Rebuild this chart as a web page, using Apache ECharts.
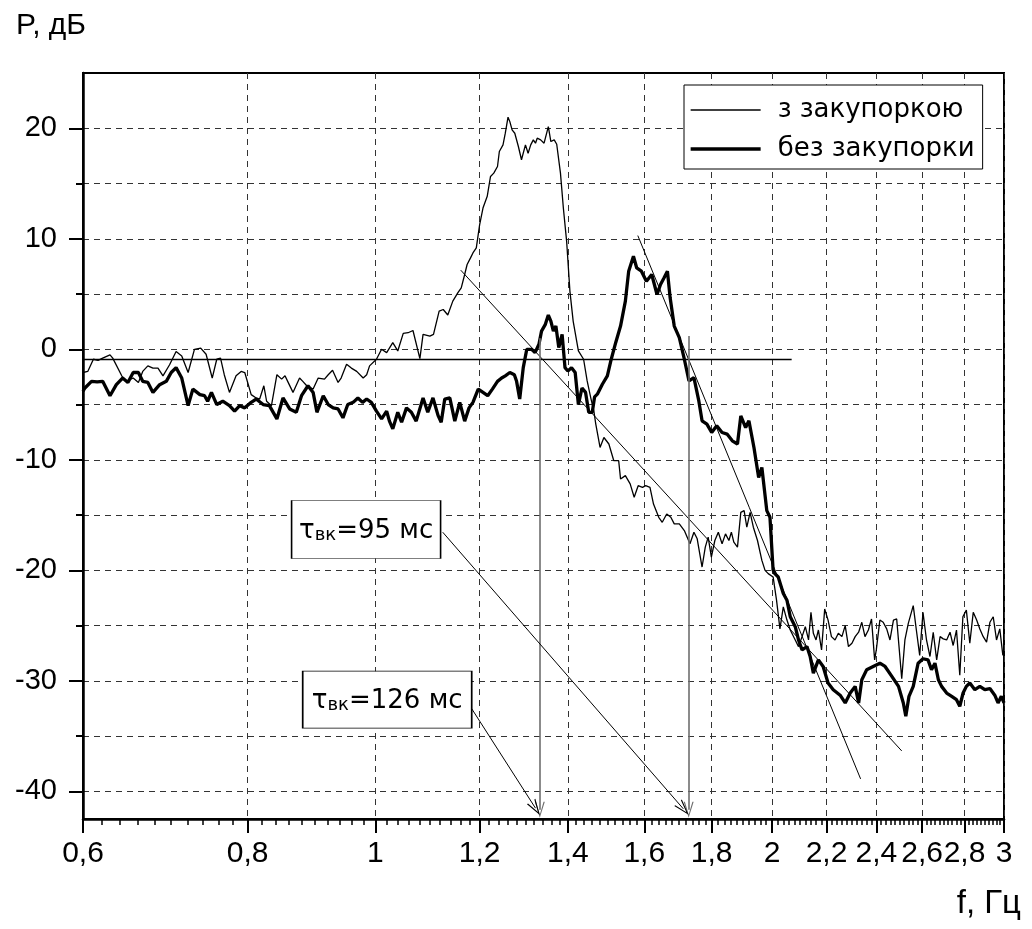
<!DOCTYPE html>
<html>
<head>
<meta charset="utf-8">
<script src="https://cdn.jsdelivr.net/npm/echarts@6/dist/echarts.min.js"></script>
<style>
  html, body { margin: 0; padding: 0; background: #fff; }
  #chart { width: 1032px; height: 929px; }
</style>
</head>
<body>
<div id="chart"></div>
<script>
// Spectrum with occlusion (thin line): frequency, Hz and level, dB
const fThin = [0.600,0.602,0.605,0.611,0.616,0.621,0.629,0.632,0.642,0.647,0.655,0.661,0.666,0.672,0.678,0.684,0.690,0.698,0.706,0.713,
  0.721,0.729,0.737,0.744,0.752,0.758,0.763,0.768,0.775,0.784,0.791,0.796,0.805,0.812,0.817,0.823,0.827,0.834,0.842,0.849,
  0.854,0.858,0.866,0.876,0.881,0.887,0.897,0.905,0.915,0.921,0.928,0.937,0.942,0.951,0.959,0.968,0.979,0.985,0.990,1.002,
  1.011,1.020,1.031,1.040,1.050,1.059,1.068,1.081,1.087,1.100,1.107,1.118,1.126,1.135,1.145,1.155,1.162,1.169,1.174,1.181,
  1.186,1.193,1.200,1.207,1.216,1.223,1.230,1.238,1.242,1.250,1.255,1.261,1.265,1.270,1.276,1.284,1.291,1.300,1.306,1.312,
  1.318,1.323,1.327,1.335,1.343,1.353,1.359,1.367,1.373,1.382,1.389,1.397,1.405,1.413,1.426,1.439,1.448,1.457,1.465,1.470,
  1.481,1.491,1.504,1.517,1.530,1.535,1.548,1.561,1.572,1.583,1.595,1.604,1.616,1.626,1.641,1.651,1.664,1.676,1.686,1.701,
  1.716,1.733,1.745,1.755,1.770,1.780,1.789,1.799,1.810,1.821,1.833,1.844,1.855,1.863,1.871,1.883,1.894,1.905,1.914,1.925,
  1.936,1.950,1.965,1.976,1.987,2.004,2.016,2.028,2.040,2.053,2.065,2.083,2.095,2.108,2.120,2.132,2.141,2.150,2.160,2.169,
  2.181,2.193,2.206,2.219,2.233,2.246,2.260,2.273,2.286,2.300,2.313,2.327,2.340,2.353,2.367,2.380,2.393,2.400,2.415,2.429,
  2.444,2.458,2.473,2.487,2.509,2.523,2.538,2.560,2.574,2.589,2.604,2.620,2.636,2.651,2.667,2.683,2.698,2.714,2.730,2.745,
  2.761,2.777,2.792,2.809,2.826,2.843,2.860,2.876,2.893,2.910,2.927,2.944,2.961,2.978,2.994];
const pThin = [-2.1,-2.0,-2.0,-0.9,-1.0,-0.8,-0.5,-0.8,-2.4,-2.9,-2.6,-3.0,-2.0,-1.5,-1.7,-1.7,-2.4,-1.4,-0.2,-0.6,
  -2.1,0.0,0.1,-0.45,-2.6,-0.9,-0.8,-2.3,-3.9,-2.4,-2.0,-2.1,-4.1,-4.4,-4.5,-3.3,-4.7,-5.1,-2.3,-2.7,
  -2.4,-2.9,-3.9,-2.6,-2.9,-3.3,-3.6,-2.6,-2.7,-2.3,-1.9,-3.0,-2.6,-1.35,-1.7,-2.0,-2.6,-2.3,-1.5,-0.9,
  0.0,-0.3,0.6,-0.15,1.44,1.5,1.7,-0.85,1.35,1.2,1.35,3.46,3.6,3.1,4.36,5.1,5.56,6.77,7.67,8.27,
  8.72,9.17,11.28,12.78,13.84,15.64,15.94,16.54,17.9,18.5,19.55,21.0,20.6,19.86,19.55,18.35,17.15,18.5,17.74,18.5,
  18.95,18.65,19.1,18.95,18.65,20.15,18.8,18.95,18.55,15.94,12.78,9.77,5.26,2.55,-0.15,-0.9,-2.86,-4.37,-5.57,-6.77,
  -8.88,-7.98,-8.57,-10.08,-10.08,-11.73,-11.43,-12.18,-13.39,-12.34,-12.49,-12.34,-12.49,-14.0,-15.2,-15.65,-14.9,-15.2,-15.8,-15.8,
  -16.4,-17.6,-16.55,-17.15,-19.7,-17.9,-17.0,-18.8,-17.3,-16.55,-17.6,-16.7,-17.3,-16.55,-17.45,-17.9,-14.75,-14.6,-16.1,-14.75,
  -16.1,-17.3,-19.1,-20.0,-20.3,-20.6,-22.7,-25.3,-23.3,-24.5,-25.4,-26.3,-26.9,-26.0,-25.1,-26.3,-23.8,-25.7,-26.3,-25.4,
  -27.2,-23.5,-24.5,-26.0,-26.3,-25.7,-26.0,-25.0,-26.9,-26.6,-26.0,-25.6,-24.7,-26.0,-25.4,-24.4,-28.1,-27.2,-24.5,-24.7,
  -25.3,-26.3,-24.5,-24.4,-29.8,-26.3,-24.8,-23.2,-25.4,-27.7,-23.8,-26.3,-27.8,-25.6,-28.1,-26.0,-26.2,-26.3,-25.6,-26.8,
  -25.4,-29.5,-24.2,-23.6,-26.6,-23.8,-24.5,-25.3,-26.0,-26.5,-24.7,-24.2,-26.3,-25.3,-27.7];

// Spectrum without occlusion (thick line)
const fThick = [0.600,0.602,0.609,0.615,0.621,0.629,0.636,0.643,0.649,0.655,0.661,0.666,0.672,0.678,0.686,0.694,0.700,0.706,0.713,0.721,
  0.727,0.736,0.742,0.746,0.751,0.758,0.766,0.775,0.782,0.789,0.796,0.805,0.812,0.822,0.831,0.842,0.851,0.861,0.871,0.879,
  0.889,0.897,0.903,0.913,0.921,0.929,0.937,0.945,0.953,0.962,0.970,0.978,0.985,0.993,1.002,1.011,1.020,1.025,1.031,1.040,
  1.047,1.056,1.065,1.074,1.087,1.096,1.106,1.116,1.122,1.129,1.139,1.149,1.159,1.169,1.178,1.186,1.197,1.207,1.217,1.227,
  1.238,1.247,1.255,1.265,1.275,1.280,1.287,1.295,1.303,1.314,1.322,1.331,1.337,1.346,1.353,1.359,1.365,1.371,1.378,1.386,
  1.393,1.400,1.409,1.418,1.426,1.435,1.444,1.452,1.461,1.467,1.474,1.487,1.500,1.509,1.522,1.535,1.548,1.557,1.570,1.579,
  1.592,1.606,1.621,1.636,1.646,1.656,1.666,1.674,1.686,1.701,1.716,1.730,1.745,1.760,1.770,1.785,1.800,1.816,1.833,1.849,
  1.866,1.883,1.894,1.910,1.921,1.938,1.954,1.965,1.982,1.993,2.004,2.010,2.022,2.040,2.053,2.065,2.083,2.095,2.108,2.126,
  2.138,2.150,2.169,2.187,2.206,2.226,2.253,2.273,2.293,2.313,2.327,2.340,2.360,2.387,2.415,2.437,2.466,2.495,2.516,2.527,
  2.541,2.560,2.582,2.604,2.627,2.643,2.659,2.675,2.690,2.714,2.738,2.761,2.777,2.793,2.809,2.826,2.851,2.876,2.901,2.927,
  2.952,2.969,2.986,3.000];
const pThick = [-3.8,-3.5,-2.9,-2.95,-2.9,-4.2,-3.2,-2.6,-3.0,-2.1,-2.1,-2.9,-3.0,-3.9,-3.2,-2.9,-2.1,-1.66,-2.6,-5.1,
  -3.6,-4.1,-4.2,-4.7,-3.9,-5.0,-4.7,-5.1,-5.6,-5.1,-5.3,-4.8,-4.5,-5.0,-5.1,-6.3,-4.4,-5.4,-5.7,-4.2,
  -3.3,-3.9,-5.7,-4.2,-5.0,-5.3,-5.4,-6.2,-5.0,-4.8,-4.4,-4.8,-4.5,-4.8,-5.6,-6.3,-5.6,-6.5,-7.2,-5.7,
  -6.6,-5.3,-5.7,-6.5,-4.4,-5.7,-4.4,-6.0,-6.6,-4.5,-4.4,-6.5,-4.8,-6.5,-5.3,-4.8,-3.6,-3.9,-4.2,-3.6,
  -2.9,-2.6,-2.4,-2.1,-2.3,-2.9,-4.5,-1.66,0.0,0.0,-0.3,0.45,1.65,2.26,3.1,2.55,1.65,2.1,0.15,1.35,
  -1.66,-1.96,-1.66,-2.1,-5.0,-3.5,-3.9,-5.7,-5.7,-4.3,-4.06,-3.16,-2.4,-1.06,0.6,2.1,4.36,7.07,8.42,7.36,
  7.07,6.16,6.77,4.96,5.87,6.46,7.07,4.66,2.1,1.05,-0.9,-2.86,-2.56,-4.67,-6.47,-6.77,-7.53,-6.92,-7.53,-7.67,
  -8.28,-8.57,-6.02,-7.08,-6.47,-8.88,-11.59,-10.69,-14.6,-15.2,-20.0,-20.3,-20.6,-22.1,-22.7,-24.2,-25.1,-26.3,-27.2,-26.9,
  -27.8,-29.3,-28.1,-28.7,-30.2,-30.8,-31.3,-32.0,-31.1,-30.5,-32.0,-29.9,-29.0,-28.7,-28.4,-28.7,-29.6,-30.5,-32.0,-33.2,
  -31.4,-30.5,-28.4,-28.0,-28.1,-29.0,-28.4,-29.9,-30.5,-31.1,-31.4,-31.7,-32.3,-31.1,-30.5,-30.2,-30.8,-30.5,-30.8,-30.7,
  -31.3,-32.0,-31.4,-32.0];

// Axis ticks
const xLabelTicks = [0.6, 0.8, 1, 1.2, 1.4, 1.6, 1.8, 2, 2.2, 2.4, 2.6, 2.8, 3];
const yLabelTicks = [-40, -30, -20, -10, 0, 10, 20];
const yGridTicks = [-40, -35, -30, -25, -20, -15, -10, -5, 0, 5, 10, 15, 20];
const xMinorTicks = [];
for (let i = 0; i <= 120; i++) xMinorTicks.push(+(0.6 + i * 0.02).toFixed(2));

// Construction lines [f, dB]
const refLevel = [[0.6, -0.9], [2.07, -0.9]];
const slopeClosed = [[1.161, 7.16], [2.509, -36.34]];
const slopeOpen = [[1.582, 10.29], [2.335, -38.87]];
const dropClosed = [[1.333, 1.0], [1.333, -41.67]];
const dropOpen = [[1.729, 1.2], [1.729, -41.67]];
const pointer126 = [[1.183, -32.49], [1.323, -41.52]];
const pointer95 = [[1.125, -16.55], [1.713, -41.58]];
const note95 = [0.984, -16.3];
const note126 = [1.021, -31.7];

const seriesNames = ['з закупоркою', 'без закупорки'];
const thinWidth = 1.3;
const thickWidth = 3.3;

const arrowHead = 'path://M0,12 L4,0 L8,12 L7,12 L4,2.5 L1,12 Z';
const axisFont = "'Liberation Sans', Arial, sans-serif";
const noteFont = "'DejaVu Sans', sans-serif";

function pair(a, b) { return a.map((v, i) => [v, b[i]]); }
function seg(pts, color, width, arrow) {
  const end = { coord: pts[1] };
  if (arrow) { end.symbol = arrowHead; end.symbolSize = [10, 16]; }
  return [{ coord: pts[0], lineStyle: { color: color, width: width, type: 'solid' } }, end];
}

const chart = echarts.init(document.getElementById('chart'), null, { renderer: 'canvas' });

chart.setOption({
  animation: false,
  backgroundColor: '#fff',
  title: [
    { text: 'P, дБ', left: 11, top: 6,
      textStyle: { fontFamily: axisFont, fontSize: 30, fontWeight: 'normal', color: '#000' } },
    { text: 'f, Гц', right: 6, top: 882,
      textStyle: { fontFamily: axisFont, fontSize: 33, fontWeight: 'normal', color: '#000' } }
  ],
  grid: { left: 83, right: 28, top: 73, bottom: 110, show: true, borderColor: '#000', borderWidth: 2 },
  legend: {
    data: [
      { name: seriesNames[0], lineStyle: { width: thinWidth, color: '#000' } },
      { name: seriesNames[1], lineStyle: { width: thickWidth, color: '#000' } }
    ],
    orient: 'vertical',
    left: 684, top: 85,
    padding: [12, 8, 7, 5],
    itemGap: 13,
    itemWidth: 70,
    itemHeight: 14,
    itemStyle: { opacity: 0 },
    backgroundColor: '#fff',
    borderColor: '#000',
    borderWidth: 1,
    borderRadius: 0,
    textStyle: { fontFamily: noteFont, fontSize: 26, color: '#000', padding: [0, 0, 0, 12] }
  },
  xAxis: [
    {
      type: 'log', min: 0.6, max: 3, position: 'bottom',
      axisLine: { show: true, onZero: false, lineStyle: { color: '#000', width: 2.5 } },
      axisTick: { show: true, length: 14, customValues: xLabelTicks, lineStyle: { color: '#000', width: 2 } },
      axisLabel: {
        customValues: xLabelTicks, margin: 20, color: '#000', fontFamily: axisFont, fontSize: 30,
        formatter: v => String(Math.round(v * 10) / 10).replace('.', ',')
      },
      splitLine: { show: true, lineStyle: { color: '#333', width: 1, type: [6, 5] } },
      minorTick: { show: false }
    },
    {
      type: 'log', min: 0.6, max: 3, position: 'bottom',
      axisLine: { show: false, onZero: false },
      axisTick: { show: true, length: 6, customValues: xMinorTicks, lineStyle: { color: '#000', width: 1.5 } },
      axisLabel: { show: false },
      splitLine: { show: false }
    }
  ],
  yAxis: [
    {
      type: 'value', min: -42.5, max: 25, position: 'left',
      axisLine: { show: true, onZero: false, lineStyle: { color: '#000', width: 2.5 } },
      axisTick: { show: true, length: 14, customValues: yLabelTicks, lineStyle: { color: '#000', width: 2 } },
      axisLabel: { customValues: yLabelTicks, margin: 26, color: '#000', fontFamily: axisFont, fontSize: 29 },
      splitLine: { show: false }
    },
    {
      type: 'value', min: -42.5, max: 25, position: 'left',
      axisLine: { show: false, onZero: false },
      axisTick: { show: true, length: 7, customValues: yGridTicks, lineStyle: { color: '#000', width: 2 } },
      axisLabel: { show: false },
      splitLine: { show: true, lineStyle: { color: '#333', width: 1, type: [6, 5] } }
    }
  ],
  series: [
    {
      name: seriesNames[0], type: 'line', xAxisIndex: 0, yAxisIndex: 0,
      data: pair(fThin, pThin), symbol: 'none', silent: true,
      lineStyle: { color: '#000', width: thinWidth }, itemStyle: { color: '#000' }, z: 3,
      markLine: {
        silent: true, symbol: ['none', 'none'], label: { show: false },
        lineStyle: { color: '#000', width: 1, type: 'solid' },
        data: [
          seg(refLevel, '#000', 1.3, false),
          seg(slopeClosed, '#000', 1, false),
          seg(slopeOpen, '#000', 1, false),
          seg(dropClosed, '#6e6e6e', 1.6, true),
          seg(dropOpen, '#6e6e6e', 1.6, true),
          seg(pointer126, '#000', 1, true),
          seg(pointer95, '#000', 1, true)
        ]
      }
    },
    {
      name: seriesNames[1], type: 'line', xAxisIndex: 0, yAxisIndex: 0,
      data: pair(fThick, pThick), symbol: 'none', silent: true,
      lineStyle: { color: '#000', width: thickWidth }, itemStyle: { color: '#000' }, z: 4,
      markPoint: {
        silent: true,
        symbol: 'rect',
        itemStyle: { color: '#fff', borderColor: '#000', borderWidth: 1 },
        label: {
          show: true, position: 'inside', color: '#000',
          rich: {
            t: { fontFamily: noteFont, fontSize: 26, color: '#000', verticalAlign: 'bottom', lineHeight: 30 },
            s: { fontFamily: noteFont, fontSize: 18, color: '#000', verticalAlign: 'bottom', lineHeight: 26 }
          }
        },
        data: [
          { coord: note95, symbolSize: [149, 58], label: { formatter: '{t|τ}{s|вк}{t|=95 мс}' } },
          { coord: note126, symbolSize: [169, 57], label: { formatter: '{t|τ}{s|вк}{t|=126 мс}' } }
        ]
      }
    }
  ]
});
</script>
</body>
</html>
